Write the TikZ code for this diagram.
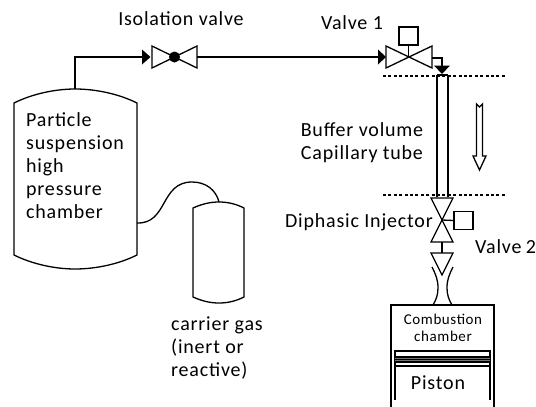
\documentclass[tikz,border=0pt]{standalone}
\usepackage{fontspec}
\setmainfont{Carlito}[LetterSpace=4]
\tikzset{
 ln/.style={draw=black,line width=1.3pt,line join=miter},
 lbl/.style={inner sep=0pt,font=\fontsize{20}{23}\selectfont,align=left},
 lblc/.style={inner sep=0pt,font=\fontsize{20}{23}\selectfont,align=center},
 sml/.style={inner sep=0pt,font=\fontsize{15}{17}\selectfont,align=center},
 dots/.style={draw=black,line width=1.2pt,dash pattern=on 3pt off 2.4pt},
 tip/.style={fill=black,draw=none},
 boxb/.style={draw=black,line width=1.3pt,fill=white,minimum width=19pt,minimum height=18pt,inner sep=0pt}
}
\begin{document}
\begin{tikzpicture}[x=1pt,y=-1pt]
\useasboundingbox (0,0) rectangle (536,407);
% main tank
\draw[ln] (14,255) -- (14,103) .. controls (32,94) and (55,89) .. (75,89) .. controls (96,89) and (119,94) .. (137,103) -- (137,255) .. controls (119,264) and (96,269) .. (75,269) .. controls (55,269) and (32,264) .. (14,255) -- cycle;
\coordinate (tanktop) at (75,89);
\coordinate (tankside) at (137,223);
\node[lbl,anchor=north west] (tanklabel) at (26,112) {Particle\\suspension\\high\\pressure\\chamber};
% carrier
\draw[ln] (193,208) .. controls (202,204) and (210,202) .. (219,202) .. controls (228,202) and (236,204) .. (244,208) -- (244,297) .. controls (236,301) and (228,303) .. (219,303) .. controls (210,303) and (202,301) .. (193,297) -- cycle;
\coordinate (cartop) at (219,202);
\draw[ln] (tankside) .. controls (168,224) and (160,182) .. (192,182) .. controls (206,182) and (216,190) .. (cartop);
\node[lbl,anchor=north west] (carlabel) at (171,317) {carrier gas\\(inert or\\reactive)};
% isolation valve
\coordinate (isoL) at (152,57);
\coordinate (isoR) at (197,57);
\draw[ln] (152,46) -- (197,68) -- (197,46) -- (152,68) -- cycle;
\fill (174.5,57) circle (5.5pt);
\node[lblc] (isolabel) at (181,19) {Isolation valve};
\draw[ln] (tanktop) -- (75,57) -- (143,57);
\fill[tip] (150.5,57) -- (142,49.5) -- (142,64.5) -- cycle;
% valve 1
\draw[ln] (386,46) -- (432,68) -- (432,46) -- (386,68) -- cycle;
\node[boxb] (v1box) at (408.5,36) {};
\draw[ln] (v1box.south) -- (408.5,57);
\node[lblc] (v1label) at (352,23) {Valve 1};
\draw[ln] (isoR) -- (379,57);
\fill[tip] (386,57) -- (378,49.5) -- (378,64.5) -- cycle;
\draw[ln] (432,58) -- (442,58) -- (442,67);
\fill[tip] (442,74) -- (434,65.5) -- (450,65.5) -- cycle;
% dotted
\draw[dots] (383,76) -- (507,76);
\draw[dots] (383,195) -- (507,195);
% capillary
\draw[ln] (437,75) -- (437,197) (448,75) -- (448,197);
\draw[ln] (437,75) -- (448,75);
\node[lblc] (buflabel) at (362,143) {Buffer volume\\Capillary tube};
% arrow
\draw[draw=black,line width=1.3pt,fill=white] (476.5,104) -- (476.5,156) -- (473,156) -- (479.5,170) -- (486,156) -- (482.5,156) -- (482.5,104) -- (479.5,107) -- cycle;
% injector
\draw[ln] (431,198) -- (453,198) -- (431,242) -- (453,242) -- cycle;
\node[boxb] (v2box) at (463.5,220.5) {};
\draw[ln] (442,220) -- (v2box.west);
\node[lbl,anchor=east] (dilabel) at (433,222) {Diphasic Injector};
\node[lblc,anchor=west] (v2label) at (475,247) {Valve\hspace{-1pt} 2};
\draw[ln] (442,242) -- (442,253);
\draw[ln] (431,253) -- (453,253) -- (442,275) -- cycle;
% nozzle
\draw[ln] (432,267) .. controls (436,275) and (438,280) .. (438,288) .. controls (438,295) and (436,300) .. (433,305);
\draw[ln] (453,267) .. controls (449,275) and (447,280) .. (447,288) .. controls (447,295) and (449,300) .. (452,305);
% chamber
\draw[ln] (391,407) -- (391,305) -- (494,305) -- (494,407);
\node[sml] (cclabel) at (443,327.5) {Combustion\\chamber};
% piston
\draw[ln,line width=1.1pt] (395,400) -- (395,351) -- (490,351) -- (490,400);
\fill (395,355.5) rectangle (490,363);
\draw[black!55,line width=0.5pt] (395,358) -- (490,358) (395,360.6) -- (490,360.6);
\draw[black,line width=1.2pt] (395,366) -- (490,366);
\node[lblc] (pislabel) at (438,383) {Piston};
\end{tikzpicture}
\end{document}
